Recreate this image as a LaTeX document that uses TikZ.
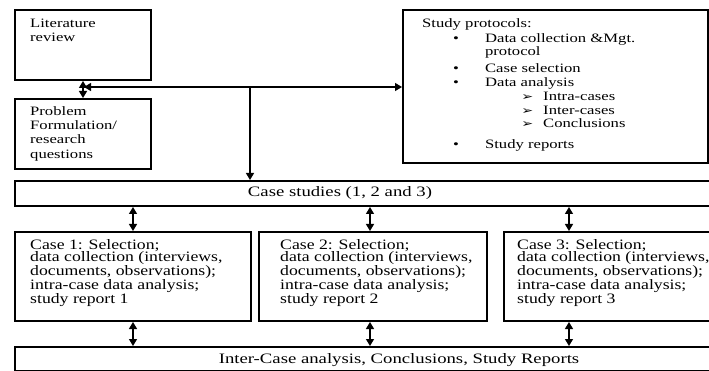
\documentclass[tikz,border=0pt]{standalone}
\usepackage{fontspec}
\usepackage{graphicx}
\setmainfont[FakeStretch=1.3]{Liberation Serif}
\newfontfamily\topfam{Liberation Serif}
\newfontfamily\casefont[FakeStretch=1.23]{Liberation Serif}
\newfontfamily\symfont{DejaVu Sans}
\usepackage{tikz}
\usetikzlibrary{arrows.meta}

\newcommand{\topfont}{\topfam\fontsize{12.8}{14.3}\selectfont}
\newcommand{\protofont}{\topfam\fontsize{12.8}{13.5}\selectfont}
\newcommand{\boxfont}{\casefont\fontsize{14.4}{12.4}\selectfont}
\newcommand{\barfont}{\rmfamily\fontsize{14.4}{14.4}\selectfont}
\newcommand{\wide}[1]{\scalebox{1.3}[1]{\begin{tabular}{@{}l@{}}#1\end{tabular}}}
\newcommand{\pbul}[1]{\hspace*{23.8pt}\makebox[24.6pt][l]{\textbullet}#1}
\newcommand{\pcont}[1]{\hspace*{48.4pt}#1}
\newcommand{\parr}[1]{\hspace*{76.2pt}\makebox[16.9pt][l]{\symfont\fontsize{11}{11}\selectfont ➢}#1}

\tikzset{
  box/.style={draw, line width=2pt, inner sep=0pt, anchor=north west},
  txt/.style={inner sep=0pt, anchor=north west, font=\topfont},
  casetxt/.style={inner sep=0pt, anchor=north west, align=left, font=\boxfont},
  bartxt/.style={inner sep=0pt, anchor=base, font=\barfont},
  link/.style={line width=1.3pt, -{Triangle[width=8pt,length=7pt]}},
  dlink/.style={line width=1.3pt, {Triangle[width=8pt,length=7pt]}-{Triangle[width=8pt,length=7pt]}},
}

\begin{document}
\begin{tikzpicture}[x=1pt,y=-1pt]
      \useasboundingbox (0,0) rectangle (709,371);
      \clip (0,0) rectangle (709,371);
      % boxes
      \node [box, minimum width=136pt, minimum height=70pt] (lit) at (14,9) {};
      \node [box, minimum width=136pt, minimum height=70pt] (prob) at (14,98) {};
      \node [box, minimum width=305pt, minimum height=153pt] (proto) at (402,9) {};
      \node [box, minimum width=720pt, minimum height=25pt] (cases) at (14,180) {};
      \node [box, minimum width=236pt, minimum height=89pt] (c1) at (14,231) {};
      \node [box, minimum width=228pt, minimum height=89pt] (c2) at (258,231) {};
      \node [box, minimum width=236pt, minimum height=89pt] (c3) at (503,231) {};
      \node [box, minimum width=720pt, minimum height=24pt] (inter) at (14,346) {};
      % texts
      \node [txt] (littxt) at (30,17) {\wide{Literature\\review}};
      \node [txt] (probtxt) at (30,105) {\wide{Problem\\Formulation/\\research\\questions}};
      \node [txt, font=\protofont] (prototxt) at (422,17.5)
        {\wide{Study protocols:\\[1.5pt]
         \pbul{Data collection \&Mgt.}\\[-0.5pt]
         \pcont{protocol}\\[3.5pt]
         \pbul{Case selection}\\[0.5pt]
         \pbul{Data analysis}\\[0.5pt]
         \parr{Intra-cases}\\[0.5pt]
         \parr{Inter-cases}\\[-0.5pt]
         \parr{Conclusions}\\[7.5pt]
         \pbul{Study reports}}};
      \node [bartxt] (casestxt) at (340,197) {Case studies (1, 2 and 3)};
      \node [casetxt] (c1txt) at (30,239) {Case 1: Selection;\\data collection (interviews,\\documents, observations);\\intra-case data analysis;\\study report 1};
      \node [casetxt] (c2txt) at (280,239) {Case 2: Selection;\\data collection (interviews,\\documents, observations);\\intra-case data analysis;\\study report 2};
      \node [casetxt] (c3txt) at (517,239) {Case 3: Selection;\\data collection (interviews,\\documents, observations);\\intra-case data analysis;\\study report 3};
      \node [bartxt] (intertxt) at (399,363) {Inter-Case analysis, Conclusions, Study Reports};
      % connectors
      \coordinate (junc) at (250,87);
      \coordinate (a1) at (133,0);
      \coordinate (a2) at (370,0);
      \coordinate (a3) at (569,0);
      \draw [dlink] (lit.south) -- (prob.north);
      \draw [link] (junc) -- (junc -| proto.west);
      \draw [link, shorten >=1pt] (junc) -- (junc -| lit.south);
      \draw [link] (junc) -- (junc |- cases.north);
      \draw [dlink] (a1 |- cases.south) -- (a1 |- c1.north);
      \draw [dlink] (a2 |- cases.south) -- (a2 |- c2.north);
      \draw [dlink] (a3 |- cases.south) -- (a3 |- c3.north);
      \draw [dlink] (a1 |- c1.south) -- (a1 |- inter.north);
      \draw [dlink] (a2 |- c2.south) -- (a2 |- inter.north);
      \draw [dlink] (a3 |- c3.south) -- (a3 |- inter.north);
\end{tikzpicture}
\end{document}
